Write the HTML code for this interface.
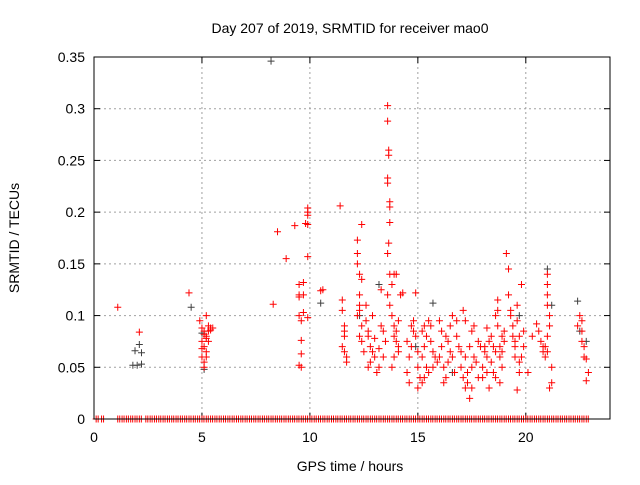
<!DOCTYPE html>
<html><head><meta charset="utf-8"><style>
body{margin:0;background:#fff;}
svg text{font-family:"Liberation Sans",sans-serif;font-size:14px;fill:#000;}
</style></head><body>
<svg id="c" width="640" height="480"></svg>
<script>
const xTicks=[0,5,10,15,20];
const yTicks=[0,0.05,0.1,0.15,0.2,0.25,0.3,0.35];
const yTickLabels=["0","0.05","0.1","0.15","0.2","0.25","0.3","0.35"];
const redX=[1.1,4.4,2.1,
4.9,5.0,5.0,5.1,5.1,5.2,5.2,5.3,5.3,5.4,5.5,5.0,5.1,5.2,5.3,5.2,5.1,5.0,5.4,5.2,5.1,
8.3,8.5,8.9,9.3,9.5,9.5,9.5,9.5,9.6,9.6,9.6,9.5,9.6,9.7,9.7,9.7,9.9,9.9,9.9,9.9,9.9,9.9,9.8,10.5,10.6,
11.4,11.5,11.5,11.6,11.6,11.7,11.5,11.6,11.7,11.6,12.2,12.2,12.3,12.2,12.3,12.4,12.4,12.3,12.2,12.4,12.3,12.4,12.5,12.3,
12.6,12.6,12.7,12.7,12.8,12.9,12.9,13.0,12.8,12.7,13.0,13.1,13.2,13.3,13.2,13.4,13.5,13.3,13.4,
13.6,13.6,13.65,13.65,13.6,13.6,13.7,13.7,13.7,13.65,13.6,13.7,13.6,13.7,13.8,13.8,13.9,13.9,14.0,14.0,14.1,14.1,13.9,13.8,14.2,14.3,14.0,13.9,14.1,
14.5,14.6,14.6,14.7,14.8,14.8,14.9,14.7,14.5,14.9,15.0,15.0,15.1,15.2,15.2,15.3,15.3,15.4,15.4,15.5,15.6,15.6,15.7,15.8,15.9,15.5,15.2,15.0,15.3,15.7,
16.0,16.0,16.1,16.2,16.3,16.3,16.4,16.5,16.5,16.6,16.7,16.8,16.9,16.2,16.4,16.6,16.1,16.8,17.0,17.0,17.1,17.2,17.2,17.3,17.3,17.4,17.5,17.5,17.6,17.7,17.8,17.9,17.1,17.4,17.6,17.8,17.2,17.5,
18.0,18.0,18.1,18.1,18.2,18.2,18.3,18.4,18.5,18.6,18.6,18.7,18.7,18.8,18.8,18.9,18.9,19.0,19.0,18.3,18.5,18.7,18.9,18.2,18.4,18.6,18.8,
19.1,19.2,19.2,19.3,19.4,19.4,19.5,19.5,19.6,19.6,19.7,19.7,19.8,19.9,19.3,19.5,19.6,19.7,19.9,19.8,
20.1,20.3,20.5,20.6,20.7,20.8,20.9,20.9,21.0,21.0,21.0,21.0,21.1,21.1,21.2,21.2,21.0,21.1,21.0,20.8,
22.4,22.5,22.6,22.6,22.7,22.7,22.8,22.9,22.6,22.8];
const redY=[0.108,0.122,0.084,
0.095,0.088,0.075,0.085,0.07,0.065,0.08,0.09,0.085,0.088,0.088,0.06,0.055,0.06,0.075,0.1,0.05,0.068,0.086,0.078,0.082,
0.111,0.181,0.155,0.187,0.13,0.12,0.118,0.1,0.095,0.076,0.063,0.052,0.05,0.132,0.103,0.12,0.204,0.2,0.197,0.188,0.157,0.098,0.189,0.124,0.125,
0.206,0.115,0.105,0.09,0.08,0.06,0.07,0.065,0.055,0.085,0.173,0.16,0.14,0.15,0.12,0.188,0.135,0.11,0.1,0.09,0.08,0.075,0.065,0.105,
0.11,0.095,0.085,0.08,0.07,0.065,0.1,0.06,0.055,0.05,0.078,0.045,0.05,0.125,0.068,0.06,0.075,0.09,0.085,
0.303,0.288,0.26,0.255,0.233,0.228,0.21,0.205,0.19,0.17,0.16,0.14,0.12,0.11,0.13,0.1,0.14,0.09,0.085,0.075,0.07,0.065,0.06,0.05,0.12,0.122,0.14,0.08,0.095,
0.045,0.035,0.06,0.07,0.085,0.095,0.08,0.09,0.075,0.122,0.065,0.05,0.04,0.035,0.06,0.09,0.07,0.05,0.08,0.095,0.09,0.075,0.065,0.06,0.055,0.045,0.085,0.03,0.04,0.05,
0.095,0.06,0.07,0.05,0.04,0.08,0.075,0.065,0.09,0.06,0.045,0.08,0.07,0.035,0.055,0.1,0.085,0.095,0.05,0.065,0.04,0.03,0.06,0.045,0.035,0.07,0.05,0.085,0.06,0.055,0.075,0.07,0.105,0.02,0.09,0.04,0.095,0.03,
0.05,0.04,0.065,0.07,0.06,0.045,0.075,0.08,0.07,0.065,0.1,0.115,0.09,0.07,0.06,0.05,0.08,0.085,0.075,0.03,0.045,0.105,0.065,0.088,0.055,0.04,0.035,
0.16,0.145,0.12,0.1,0.09,0.08,0.07,0.06,0.11,0.095,0.08,0.055,0.13,0.085,0.105,0.075,0.028,0.045,0.07,0.06,
0.045,0.08,0.092,0.085,0.075,0.065,0.07,0.06,0.14,0.13,0.12,0.11,0.1,0.09,0.05,0.035,0.065,0.03,0.08,0.07,
0.09,0.1,0.085,0.075,0.06,0.07,0.058,0.045,0.095,0.037];
const greyX=[1.9,2.0,2.2,1.8,2.1,2.2,4.5,5.0,5.1,8.2,10.5,12.3,13.2,14.9,15.7,16.6,19.7,21.0,21.2,22.4,22.5,22.8];
const greyY=[0.066,0.052,0.064,0.052,0.072,0.053,0.108,0.083,0.048,0.346,0.112,0.1,0.13,0.07,0.112,0.045,0.1,0.145,0.11,0.114,0.085,0.075];
const zeroX=[0.1,0.35,1.1,1.3,1.5,1.7,1.9,2.1,2.4,2.6,2.8,3.0,3.2,3.4,3.6,3.8,4.0,4.2,4.4,4.6,4.8,5.0,5.2,5.4,5.6,5.8,6.0,6.2,6.4,6.6,6.8,7.0,7.2,7.4,7.6,7.8,8.0,8.2,8.4,8.6,8.8,9.0,9.2,9.4,9.6,9.8,10.0,10.2,10.4,10.6,10.8,11.0,11.2,11.4,11.6,11.8,12.0,12.2,12.4,12.6,12.8,13.0,13.2,13.4,13.6,13.8,14.0,14.2,14.4,14.6,14.8,15.0,15.2,15.4,15.6,15.8,16.0,16.2,16.4,16.6,16.8,17.0,17.2,17.4,17.6,17.8,18.0,18.2,18.4,18.6,18.8,19.0,19.2,19.4,19.6,19.8,20.0,20.2,20.4,20.6,20.8,21.0,21.2,21.4,21.6,21.8,22.0,22.2,22.4,22.6,22.8];

const L=94,R=610,T=57,B=419,XMAX=23.9,YMAX=0.35;
const sx=v=>L+v/XMAX*(R-L), sy=v=>B-v/YMAX*(B-T);
const svg=document.getElementById('c'),NS='http://www.w3.org/2000/svg';
function mk(tag,a,parent){const e=document.createElementNS(NS,tag);for(const k in a)e.setAttribute(k,a[k]);(parent||svg).appendChild(e);return e;}
const grid=mk('g',{});


yTicks.forEach((v,i)=>{
 if(i>0&&v<YMAX) mk('line',{x1:L,x2:R,y1:sy(v),y2:sy(v),stroke:'#a0a0a0','stroke-dasharray':'2,3'},grid);
 mk('line',{x1:L,x2:L+6,y1:sy(v),y2:sy(v),stroke:'#000'});
 mk('line',{x1:R,x2:R-6,y1:sy(v),y2:sy(v),stroke:'#000'});
 const t=mk('text',{x:L-9,y:sy(v)+5,'text-anchor':'end'});t.textContent=yTickLabels[i];
 
 
});
xTicks.forEach(v=>{
 if(v>0) mk('line',{x1:sx(v),x2:sx(v),y1:T,y2:B,stroke:'#a0a0a0','stroke-dasharray':'2,3'},grid);
 mk('line',{x1:sx(v),x2:sx(v),y1:B,y2:B-6,stroke:'#000'});
 mk('line',{x1:sx(v),x2:sx(v),y1:T,y2:T+6,stroke:'#000'});
 const t=mk('text',{x:sx(v),y:B+23,'text-anchor':'middle'});t.textContent=String(v);
 
 
});
function plus(x,y,c,g){mk('path',{d:`M${x-3.5},${y}h7M${x},${y-3.5}v7`,stroke:c,'stroke-width':1,fill:'none'},g);}
const gr=mk('g',{});


greyX.forEach((x,i)=>plus(sx(x),sy(greyY[i]),'#404040',gr));
const rd=mk('g',{});


redX.forEach((x,i)=>plus(sx(x),sy(redY[i]),'#ff0000',rd));
zeroX.forEach(x=>{plus(sx(x),sy(0),'#ff0000',rd);plus(sx(x)+2,sy(0),'#ff0000',rd);});
const fr=mk('rect',{x:L,y:T,width:R-L,height:B-T,fill:'none',stroke:'#000'});


const tt=mk('text',{x:350,y:33,'text-anchor':'middle'});tt.textContent='Day 207 of 2019, SRMTID for receiver mao0';


const xt=mk('text',{x:350,y:471,'text-anchor':'middle'});xt.textContent='GPS time / hours';


const yt=mk('text',{x:19,y:238,'text-anchor':'middle',transform:'rotate(-90 19 238)'});yt.textContent='SRMTID / TECUs';


</script>
</body></html>
